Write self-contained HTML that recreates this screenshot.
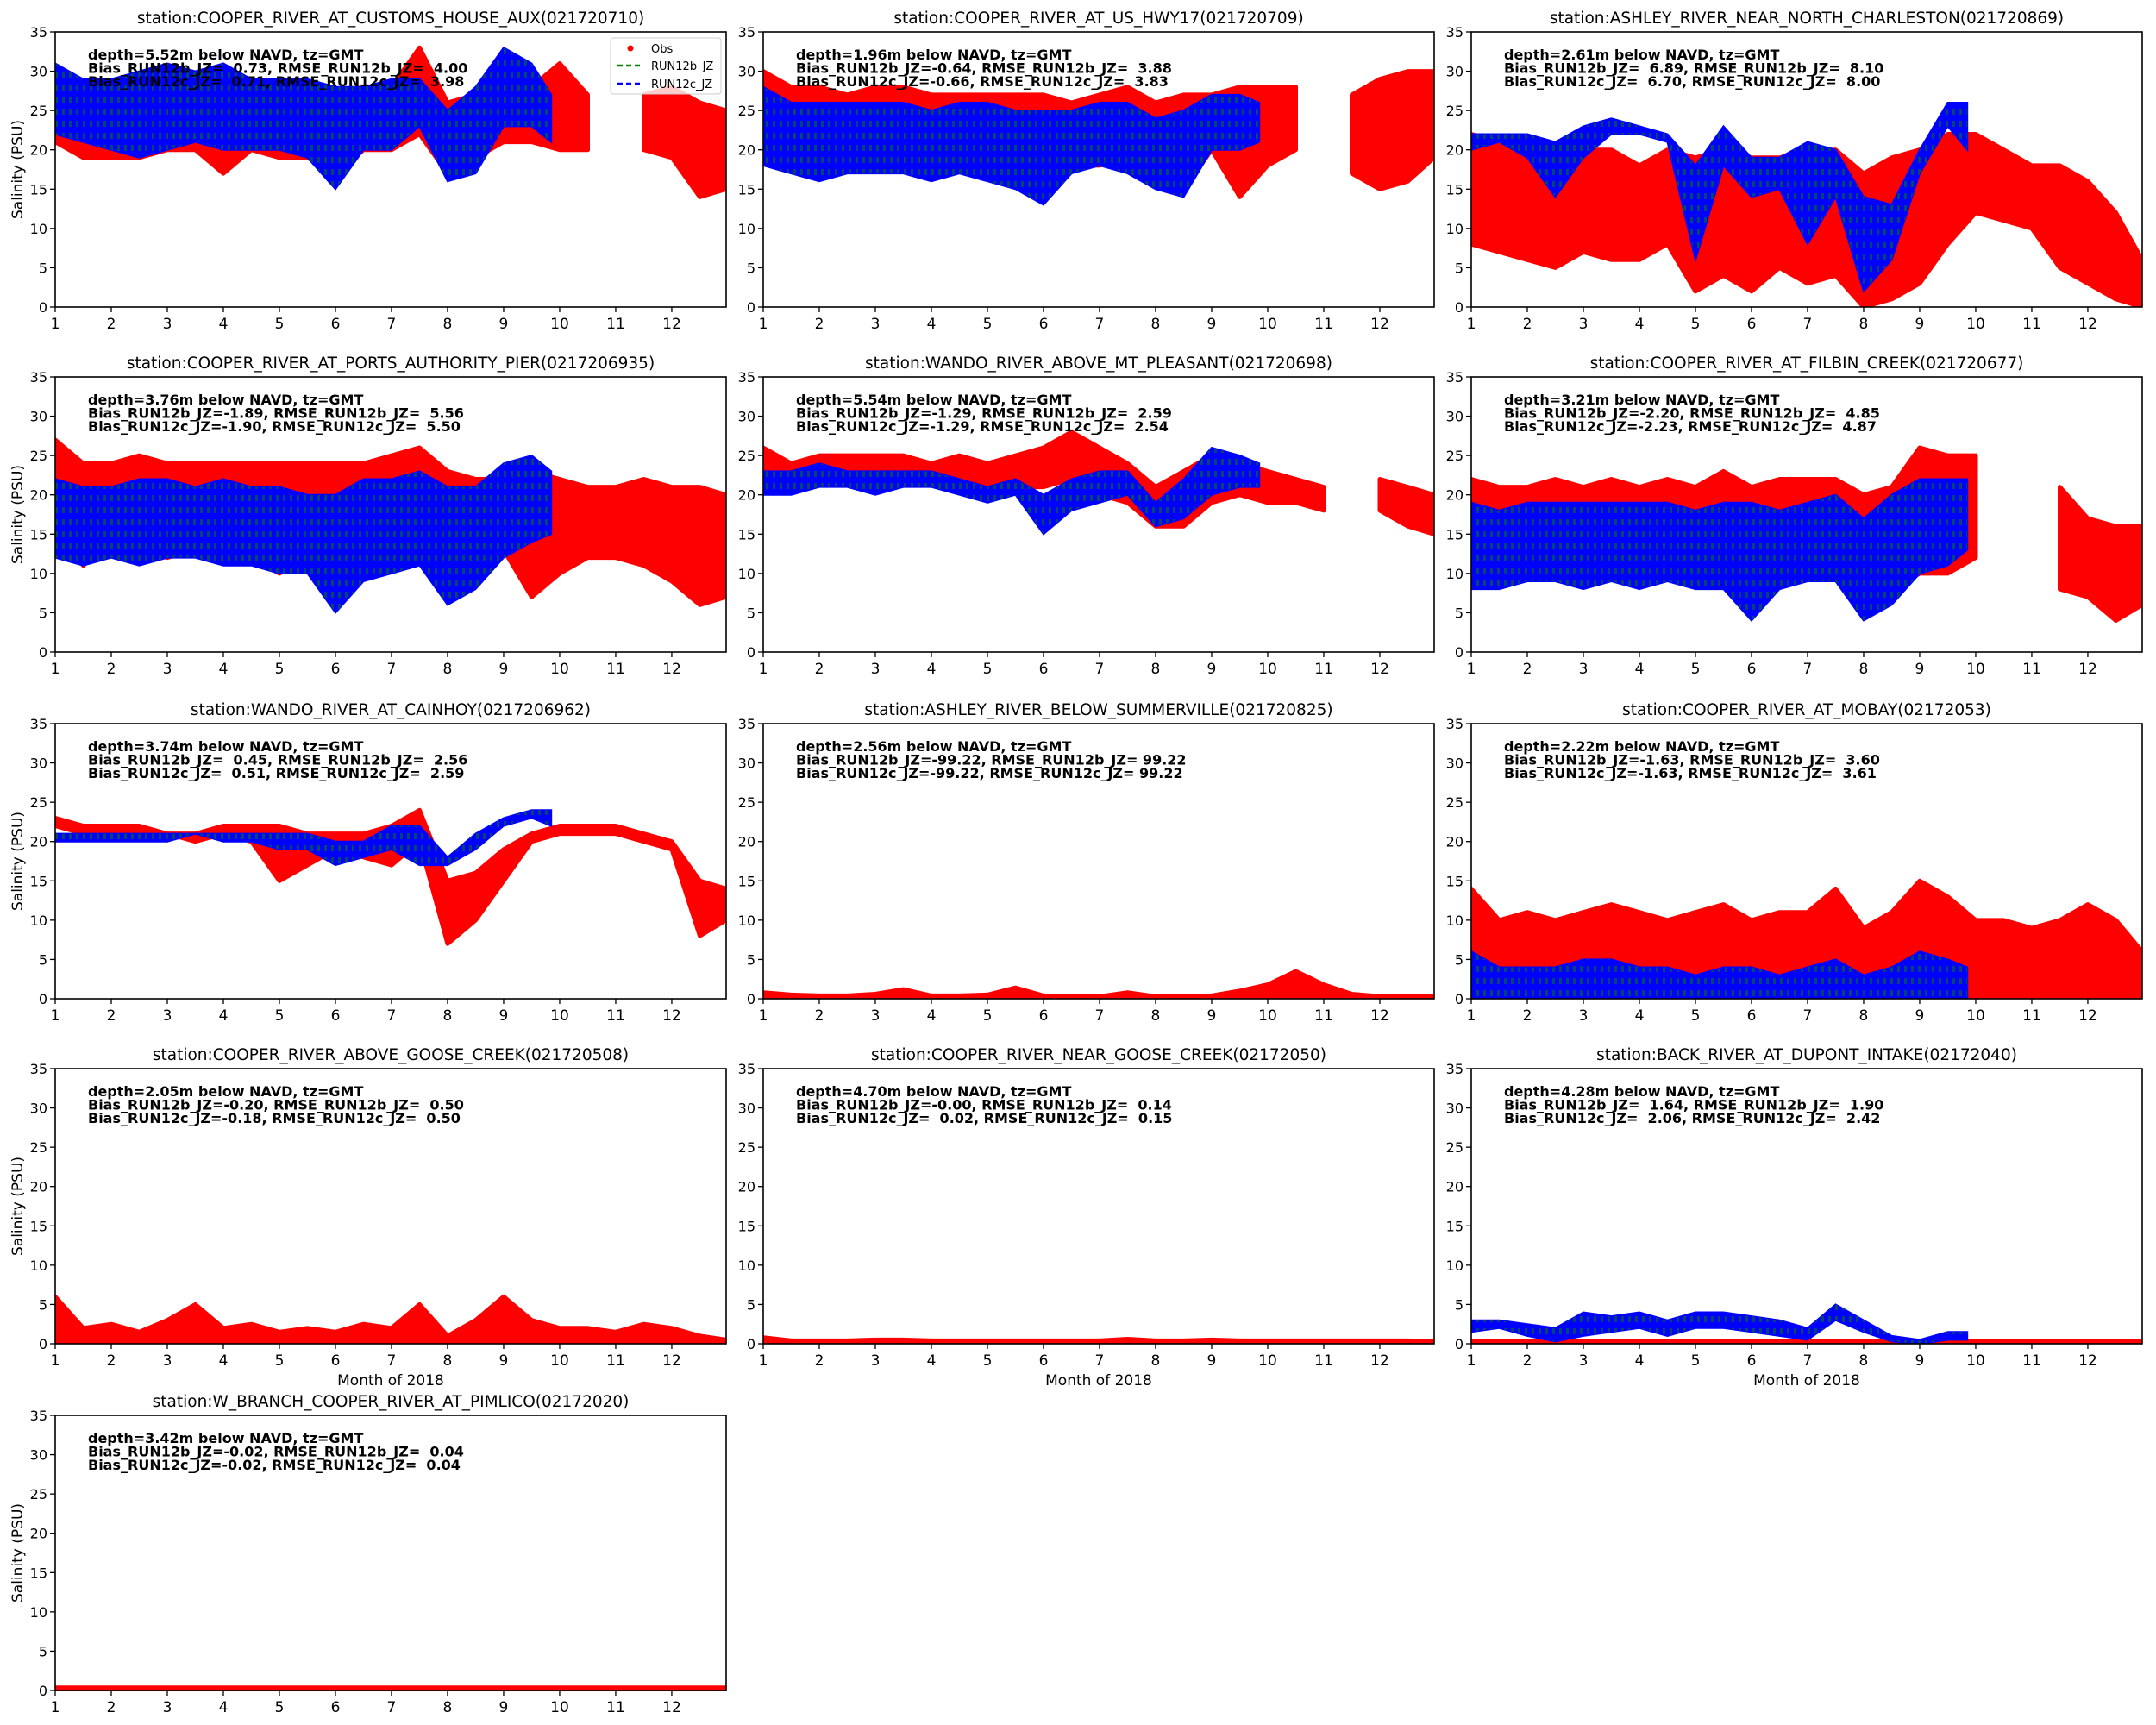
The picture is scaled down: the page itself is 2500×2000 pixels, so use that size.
<!DOCTYPE html>
<html><head><meta charset="utf-8">
<style>
body{margin:0;background:#fff;}
svg{display:block;}
text{font-family:"DejaVu Sans","Liberation Sans",sans-serif;fill:#000;}
.pre{white-space:pre;}
</style></head>
<body>
<svg id="fig" width="2500" height="2000" viewBox="0 0 2500 2000" xmlns="http://www.w3.org/2000/svg">
<defs>
<pattern id="greenHatch" width="8" height="14" patternUnits="userSpaceOnUse">
<rect x="0" y="0" width="3" height="7" fill="#008000"/>
</pattern>
</defs>
</svg>
<script>
// ---- Data (months on x, salinity PSU on y) ----
const obsX = [1,1.5,2,2.5,3,3.5,4,4.5,5,5.5,6,6.5,7,7.5,8,8.5,9,9.5,10,10.5,11,11.5,12,12.5,12.97];
const modX = [1,1.5,2,2.5,3,3.5,4,4.5,5,5.5,6,6.5,7,7.5,8,8.5,9,9.5,9.85];
const titles = [
 "station:COOPER_RIVER_AT_CUSTOMS_HOUSE_AUX(021720710)",
 "station:COOPER_RIVER_AT_US_HWY17(021720709)",
 "station:ASHLEY_RIVER_NEAR_NORTH_CHARLESTON(021720869)",
 "station:COOPER_RIVER_AT_PORTS_AUTHORITY_PIER(0217206935)",
 "station:WANDO_RIVER_ABOVE_MT_PLEASANT(021720698)",
 "station:COOPER_RIVER_AT_FILBIN_CREEK(021720677)",
 "station:WANDO_RIVER_AT_CAINHOY(0217206962)",
 "station:ASHLEY_RIVER_BELOW_SUMMERVILLE(021720825)",
 "station:COOPER_RIVER_AT_MOBAY(02172053)",
 "station:COOPER_RIVER_ABOVE_GOOSE_CREEK(021720508)",
 "station:COOPER_RIVER_NEAR_GOOSE_CREEK(02172050)",
 "station:BACK_RIVER_AT_DUPONT_INTAKE(02172040)",
 "station:W_BRANCH_COOPER_RIVER_AT_PIMLICO(02172020)"];
const depths = ["5.52","1.96","2.61","3.76","5.54","3.21","3.74","2.56","2.22","2.05","4.70","4.28","3.42"];
const biasB = [" 0.73","-0.64"," 6.89","-1.89","-1.29","-2.20"," 0.45","-99.22","-1.63","-0.20","-0.00"," 1.64","-0.02"];
const rmseB = [" 4.00"," 3.88"," 8.10"," 5.56"," 2.59"," 4.85"," 2.56","99.22"," 3.60"," 0.50"," 0.14"," 1.90"," 0.04"];
const biasC = [" 0.71","-0.66"," 6.70","-1.90","-1.29","-2.23"," 0.51","-99.22","-1.63","-0.18"," 0.02"," 2.06","-0.02"];
const rmseC = [" 3.98"," 3.83"," 8.00"," 5.50"," 2.54"," 4.87"," 2.59","99.22"," 3.61"," 0.50"," 0.15"," 2.42"," 0.04"];
// Obs envelopes (null = data gap)
const obsHi = [
 [30,28,28,27,28,27,28,28,29,27,27,28,28,33,26,27,28,28,31,27,null,27,28,26,25],
 [30,28,28,27,28,28,27,27,27,27,27,26,27,28,26,27,27,28,28,28,null,27,29,30,30],
 [22,21,20,19,20,20,18,20,19,20,19,19,20,20,17,19,20,22,22,20,18,18,16,12,6],
 [27,24,24,25,24,24,24,24,24,24,24,24,25,26,23,22,22,23,22,21,21,22,21,21,20],
 [26,24,25,25,25,25,24,25,24,25,26,28,26,24,21,23,25,24,23,22,21,null,22,21,20],
 [22,21,21,22,21,22,21,22,21,23,21,22,22,22,20,21,26,25,25,null,null,21,17,16,16],
 [23,22,22,22,21,21,22,22,22,21,21,21,22,24,15,16,19,21,22,22,22,21,20,15,14],
 [0.8,0.5,0.4,0.4,0.6,1.2,0.4,0.4,0.5,1.4,0.4,0.3,0.3,0.8,0.3,0.3,0.4,1.0,1.8,3.5,1.8,0.6,0.3,0.3,0.3],
 [14,10,11,10,11,12,11,10,11,12,10,11,11,14,9,11,15,13,10,10,9,10,12,10,6],
 [6,2,2.5,1.5,3,5,2,2.5,1.5,2,1.5,2.5,2,5,1,3,6,3,2,2,1.5,2.5,2,1,0.5],
 [0.8,0.4,0.4,0.4,0.5,0.5,0.4,0.4,0.4,0.4,0.4,0.4,0.4,0.6,0.4,0.4,0.5,0.4,0.4,0.4,0.4,0.4,0.4,0.4,0.3],
 [0.35,0.35,0.35,0.35,0.35,0.35,0.35,0.35,0.35,0.35,0.35,0.35,0.35,0.35,0.35,0.35,0.35,0.35,0.35,0.35,0.35,0.35,0.35,0.35,0.35],
 [0.35,0.35,0.35,0.35,0.35,0.35,0.35,0.35,0.35,0.35,0.35,0.35,0.35,0.35,0.35,0.35,0.35,0.35,0.35,0.35,0.35,0.35,0.35,0.35,0.35]];
const obsLo = [
 [21,19,19,19,20,20,17,20,19,19,17,20,20,22,17,19,21,21,20,20,null,20,19,14,15],
 [19,18,19,18,19,19,18,18,17,17,16,18,18,19,16,15,20,14,18,20,null,17,15,16,19],
 [8,7,6,5,7,6,6,8,2,4,2,5,3,4,0,1,3,8,12,11,10,5,3,1,0],
 [16,11,14,13,12,13,12,12,10,12,7,12,13,14,10,11,13,7,10,12,12,11,9,6,7],
 [21,22,22,22,22,22,22,22,20,21,21,22,20,19,16,16,19,20,19,19,18,null,18,16,15],
 [10,10,12,12,12,11,12,12,11,10,5,9,10,10,7,8,10,10,12,null,null,8,7,4,6],
 [22,21,21,21,21,20,21,20,15,17,19,18,17,20,7,10,15,20,21,21,21,20,19,8,10],
 [0,0,0,0,0,0,0,0,0,0,0,0,0,0,0,0,0,0,0,0,0,0,0,0,0],
 [0,0,0,0,0,0,0,0,0,0,0,0,0,0,0,0,0,0,0,0,0,0,0,0,0],
 [0,0,0,0,0,0,0,0,0,0,0,0,0,0,0,0,0,0,0,0,0,0,0,0,0],
 [0,0,0,0,0,0,0,0,0,0,0,0,0,0,0,0,0,0,0,0,0,0,0,0,0],
 [0,0,0,0,0,0,0,0,0,0,0,0,0,0,0,0,0,0,0,0,0,0,0,0,0],
 [0,0,0,0,0,0,0,0,0,0,0,0,0,0,0,0,0,0,0,0,0,0,0,0,0]];
// Model envelopes (null = no model shown)
const modHi = [
 [31,29,29,30,31,30,31,29,29,29,28,28,29,29,25,28,33,31,27],
 [28,26,26,26,26,26,25,26,26,25,25,25,26,26,24,25,27,27,26],
 [22,22,22,21,23,24,23,22,18,23,19,19,21,20,14,13,20,26,26],
 [22,21,21,22,22,21,22,21,21,20,20,22,22,23,21,21,24,25,23],
 [23,23,24,23,23,23,23,22,21,22,20,22,23,23,19,22,26,25,24],
 [19,18,19,19,19,19,19,19,18,19,19,18,19,20,17,20,22,22,22],
 [21,21,21,21,21,21,21,21,21,21,20,20,22,22,18,21,23,24,24],
 null,
 [6,4,4,4,5,5,4,4,3,4,4,3,4,5,3,4,6,5,4],
 null, null,
 [3,3,2.5,2,4,3.5,4,3,4,4,3.5,3,2,5,3,1,0.5,1.5,1.5],
 null];
const modLo = [
 [22,21,20,19,20,21,20,20,20,19,15,20,20,23,16,17,23,23,21],
 [18,17,16,17,17,17,16,17,16,15,13,17,18,17,15,14,20,20,21],
 [20,21,19,14,19,22,22,21,6,18,14,15,8,14,2,6,17,23,20],
 [12,11,12,11,12,12,11,11,10,10,5,9,10,11,6,8,12,14,15],
 [20,20,21,21,20,21,21,20,19,20,15,18,19,20,16,17,20,21,21],
 [8,8,9,9,8,9,8,9,8,8,4,8,9,9,4,6,10,11,13],
 [20,20,20,20,20,21,20,20,19,19,17,18,19,17,17,19,22,23,22],
 null,
 [0,0,0,0,0,0,0,0,0,0,0,0,0,0,0,0,0,0,0,0],
 null, null,
 [1.5,2,1,0.3,1,1.5,2,1,2,2,1.5,1,0.5,3,1.5,0.3,0,0.5,0.5],
 null];
const yTicks = [0,5,10,15,20,25,30,35];
const xTicks = [1,2,3,4,5,6,7,8,9,10,11,12];

// ---- Layout ----
const NS = "http://www.w3.org/2000/svg";
const svg = document.getElementById('fig');
const colX = [64, 885, 1706], AW = 778;
const rowY = [37, 437, 839, 1239, 1641], AH = 319;
const XMIN = 1, XMAX = 12.97, YMIN = 0, YMAX = 35;

function mk(tag, attrs, parent){
  const e = document.createElementNS(NS, tag);
  for (const k in attrs) e.setAttribute(k, attrs[k]);
  (parent||svg).appendChild(e);
  return e;
}
function bandPath(xs, hi, lo, sx, sy){
  let d = "", seg = [];
  const flush = () => {
    if (seg.length > 1){
      d += "M" + seg.map(i => sx(xs[i]).toFixed(1) + "," + sy(hi[i]).toFixed(1)).join("L");
      d += "L" + seg.slice().reverse().map(i => sx(xs[i]).toFixed(1) + "," + sy(lo[i]).toFixed(1)).join("L") + "Z";
    }
    seg = [];
  };
  for (let i = 0; i < xs.length; i++){ if (hi[i] === null) flush(); else seg.push(i); }
  flush();
  return d;
}

for (let p = 0; p < titles.length; p++){
  const r = Math.floor(p/3), c = p%3;
  const x0 = colX[c], y0 = rowY[r];
  const sx = v => x0 + (v - XMIN)/(XMAX - XMIN)*AW;
  const sy = v => y0 + AH - (v - YMIN)/(YMAX - YMIN)*AH;
  const g = mk('g', {});
  
  
  const clipId = 'clip' + p;
  const cp = mk('clipPath', {id: clipId}, g);
  mk('rect', {x: x0, y: y0, width: AW, height: AH}, cp);
  const plot = mk('g', {'clip-path': 'url(#' + clipId + ')'}, g);

  const obs = mk('path', {d: bandPath(obsX, obsHi[p], obsLo[p], sx, sy), fill: '#ff0000', stroke: '#ff0000', 'stroke-width': 5, 'stroke-linejoin': 'round'}, plot);
  
  
  if (modHi[p]){
    const mb = mk('path', {d: bandPath(modX, modHi[p], modLo[p], sx, sy), fill: '#0000ff', stroke: '#0000ff', 'stroke-width': 2}, plot);
    
    
    const mg = mk('path', {d: bandPath(modX, modHi[p], modLo[p], sx, sy), fill: 'url(#greenHatch)', opacity: 0.55}, plot);
    
    
  }
  const fr = mk('rect', {x: x0, y: y0, width: AW, height: AH, fill: 'none', stroke: '#000', 'stroke-width': 1.6}, g);
  
  
  yTicks.forEach(t => {
    const y = sy(t);
    mk('line', {x1: x0-6, x2: x0, y1: y, y2: y, stroke: '#000', 'stroke-width': 1.3}, g);
    const tl = mk('text', {x: x0-9, y: y+6, 'font-size': 16, 'text-anchor': 'end'}, g);
    tl.textContent = t;
    
    
  });
  xTicks.forEach(t => {
    const x = sx(t);
    mk('line', {x1: x, x2: x, y1: y0+AH, y2: y0+AH+6, stroke: '#000', 'stroke-width': 1.3}, g);
    const tl = mk('text', {x: x, y: y0+AH+25, 'font-size': 17, 'text-anchor': 'middle'}, g);
    tl.textContent = t;
    
    
  });
  const tt = mk('text', {x: x0+AW/2, y: y0-10, 'font-size': 18.5, 'text-anchor': 'middle'}, g);
  tt.textContent = titles[p];
  
  
  const lines = ["depth=" + depths[p] + "m below NAVD, tz=GMT",
    "Bias_RUN12b_JZ= " + biasB[p] + ", RMSE_RUN12b_JZ= " + rmseB[p],
    "Bias_RUN12c_JZ= " + biasC[p] + ", RMSE_RUN12c_JZ= " + rmseC[p]];
  lines.forEach((s, i) => {
    const t = mk('text', {x: x0+38, y: y0+32+i*15.5, 'font-size': 16, 'font-weight': 'bold', 'class': 'pre'}, g);
    t.textContent = s.replace("=  -", "=-").replace("= -", "=-");
    
    
  });
  if (c === 0){
    const yl = mk('text', {x: 0, y: 0, 'font-size': 17, 'text-anchor': 'middle', transform: 'translate(26,' + (y0+AH/2) + ') rotate(-90)'}, g);
    yl.textContent = "Salinity (PSU)";
    
    
  }
  if (r === 3){
    const xl = mk('text', {x: x0+AW/2, y: y0+AH+48, 'font-size': 17, 'text-anchor': 'middle'}, g);
    xl.textContent = "Month of 2018";
    
    
  }
  if (p === 0){
    const lg = mk('g', {}, g);
    
    
    mk('rect', {x: 708, y: 44, width: 128, height: 65, rx: 3, fill: '#fff', 'fill-opacity': 0.8, stroke: '#ccc', 'stroke-width': 1}, lg);
    mk('circle', {cx: 731, cy: 56, r: 3.5, fill: '#ff0000'}, lg);
    mk('line', {x1: 716, x2: 746, y1: 76, y2: 76, stroke: '#008000', 'stroke-width': 2.5, 'stroke-dasharray': '6,4'}, lg);
    mk('line', {x1: 716, x2: 746, y1: 97, y2: 97, stroke: '#0000ff', 'stroke-width': 2.5, 'stroke-dasharray': '6,4'}, lg);
    [["Obs",61],["RUN12b_JZ",81],["RUN12c_JZ",102]].forEach(([s,y]) => {
      const t = mk('text', {x: 755, y: y, 'font-size': 13}, lg);
      t.textContent = s;
      
      
    });
  }
}
</script>
</body></html>
